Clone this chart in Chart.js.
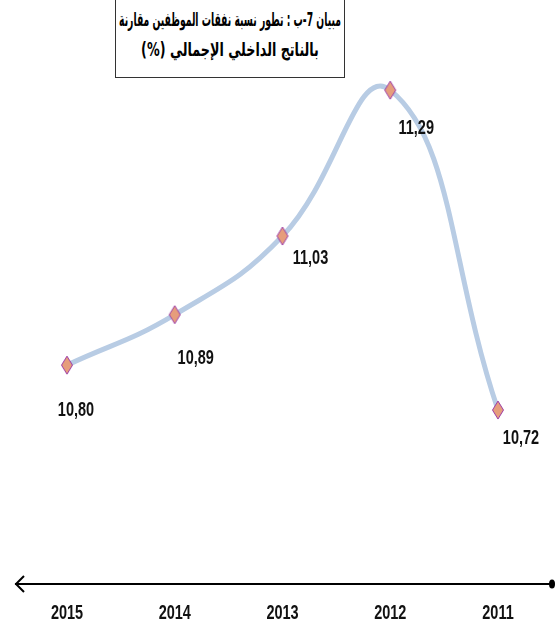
<!DOCTYPE html>
<html>
<head>
<meta charset="utf-8">
<script src="https://cdn.jsdelivr.net/npm/chart.js@4.4.1/dist/chart.umd.min.js"></script>
<style>
  html, body { margin: 0; padding: 0; background: #fff; }
  #wrap { position: relative; width: 557px; height: 639px; }
  #titre {
    position: absolute; left: 115px; top: -1px; width: 230px; height: 79px;
    border: 1px solid #333; box-sizing: border-box; background: #fff;
    font-family: "DejaVu Sans", sans-serif; font-weight: bold; font-size: 19px;
    direction: rtl; color: #000; z-index: 2; overflow: hidden;
  }
  #titre span {
    position: absolute; left: 50%; white-space: nowrap; line-height: 30px;
    transform-origin: center;
  }
</style>
</head>
<body>
<div id="wrap">
  <div id="titre">
    <span data-w="222" style="top: 4px">مبيان 7-ب : تطور نسبة نفقات الموظفين مقارنة</span>
    <span data-w="178" style="top: 34px">بالناتج الداخلي الإجمالي (%)</span>
  </div>
  <canvas id="graf" width="557" height="639"></canvas>
</div>
<script>
// السنوات والنسب
const annees = ['2015', '2014', '2013', '2012', '2011'];
const ratios = [10.80, 10.89, 11.03, 11.29, 10.72];
const etiquettes = ['10,80', '10,89', '11,03', '11,29', '10,72'];

// titre resserré à la largeur voulue
document.querySelectorAll('#titre span').forEach(s => {
  const k = Number(s.dataset.w) / s.offsetWidth;
  s.style.transform = 'translateX(-50%) scaleX(' + k.toFixed(3) + ')';
});

// losange du marqueur
function losange() {
  const c = document.createElement('canvas');
  c.width = 14; c.height = 20;
  const g = c.getContext('2d');
  g.beginPath();
  g.moveTo(7, 1); g.lineTo(12.5, 10); g.lineTo(7, 19); g.lineTo(1.5, 10); g.closePath();
  g.fillStyle = '#e69d7c'; g.fill();
  g.strokeStyle = '#9b3aa6'; g.lineWidth = 1; g.stroke();
  return c;
}

// texte gras étroit
function texteEtroit(ctx, txt, x, y) {
  ctx.save();
  ctx.translate(x, y);
  ctx.scale(0.69, 1);
  ctx.font = 'bold 21px "Liberation Sans", Arial, sans-serif';
  ctx.fillStyle = '#111';
  ctx.textAlign = 'center';
  ctx.textBaseline = 'middle';
  ctx.fillText(txt, 0, 0);
  ctx.restore();
}

// décalage des étiquettes par point
const decalages = [[9, 45], [21, 44], [28, 22], [26, 38], [23, 28]];

const etiquettesPlugin = {
  id: 'etiquettes',
  afterDatasetsDraw(chart) {
    const meta = chart.getDatasetMeta(0);
    meta.data.forEach((pt, i) => {
      texteEtroit(chart.ctx, etiquettes[i], pt.x + decalages[i][0], pt.y + decalages[i][1]);
    });
  }
};

const axePlugin = {
  id: 'axe',
  beforeDatasetsDraw(chart) {
    const ctx = chart.ctx;
    const a = chart.chartArea;
    const sx = chart.scales.x;
    const y = a.bottom;
    const x0 = a.left - 52, x1 = a.right + 54;
    ctx.save();
    ctx.strokeStyle = '#000';
    ctx.lineWidth = 2;
    ctx.beginPath();
    ctx.moveTo(x0, y); ctx.lineTo(x1, y);
    ctx.stroke();
    ctx.beginPath();
    ctx.moveTo(x0 + 9, y - 8); ctx.lineTo(x0 + 1, y); ctx.lineTo(x0 + 9, y + 8);
    ctx.stroke();
    ctx.fillStyle = '#000';
    ctx.beginPath();
    ctx.ellipse(x1, y, 3, 4.5, 0, 0, Math.PI * 2);
    ctx.fill();
    ctx.restore();
    // années sous l'axe
    sx.getLabels().forEach((lab, i) => {
      texteEtroit(ctx, lab, sx.getPixelForValue(i), y + 29);
    });
  }
};

new Chart(document.getElementById('graf'), {
  type: 'line',
  data: {
    labels: annees,
    datasets: [{
      data: ratios,
      borderColor: '#b8cce4',
      borderWidth: 5,
      tension: 0.45,
      pointStyle: losange(),
      pointRadius: 8,
      clip: false
    }]
  },
  options: {
    responsive: false,
    animation: false,
    layout: { padding: { left: 67, right: 59, top: 20, bottom: 47 } },
    plugins: { legend: { display: false }, tooltip: { enabled: false } },
    scales: {
      x: {
        grid: { display: false },
        border: { display: false },
        ticks: { display: false }
      },
      y: { display: false, min: 10.41, max: 11.415 }
    }
  },
  plugins: [axePlugin, etiquettesPlugin]
});
</script>
</body>
</html>
